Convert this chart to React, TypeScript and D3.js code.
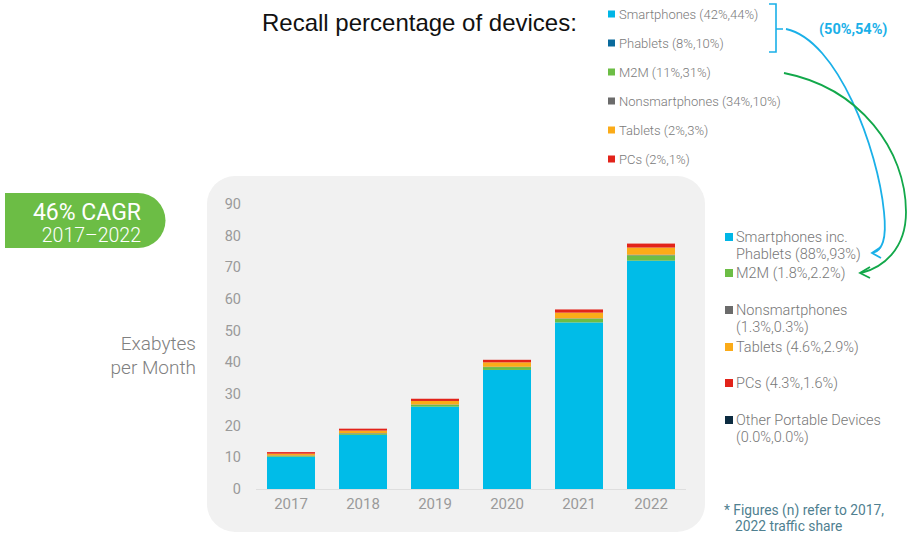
import React from "react";
import * as d3 from "d3";

const years = ["2017", "2018", "2019", "2020", "2021", "2022"];
const smartphones = [10.2, 17.1, 26.0, 37.6, 52.6, 72.1];
const m2m = [0.25, 0.4, 0.6, 0.9, 1.2, 1.7];
const nonsmartphones = [0.15, 0.15, 0.1, 0.1, 0.1, 0.2];
const tablets = [0.55, 0.8, 1.1, 1.4, 1.8, 2.25];
const pcs = [0.5, 0.6, 0.7, 0.8, 1.0, 1.25];
const otherPortable = [0, 0, 0, 0, 0, 0];
const yTicks = [0, 10, 20, 30, 40, 50, 60, 70, 80, 90];

const topLegend = [
  { label: "Smartphones (42%,44%)", color: "#00b6e6" },
  { label: "Phablets (8%,10%)", color: "#0a6a9c" },
  { label: "M2M (11%,31%)", color: "#6cbd45" },
  { label: "Nonsmartphones (34%,10%)", color: "#6b6b6b" },
  { label: "Tablets (2%,3%)", color: "#fbab18" },
  { label: "PCs (2%,1%)", color: "#e2231a" },
];

const rightLegend = [
  { lines: ["Smartphones inc.", "Phablets (88%,93%)"], color: "#00b6e6", y: 237 },
  { lines: ["M2M (1.8%,2.2%)"], color: "#6cbd45", y: 273 },
  { lines: ["Nonsmartphones", "(1.3%,0.3%)"], color: "#6b6b6b", y: 310 },
  { lines: ["Tablets (4.6%,2.9%)"], color: "#fbab18", y: 347 },
  { lines: ["PCs (4.3%,1.6%)"], color: "#e2231a", y: 383 },
  { lines: ["Other Portable Devices", "(0.0%,0.0%)"], color: "#0c2b40", y: 420 },
];

const keys = ["smartphones", "m2m", "nonsmartphones", "tablets", "pcs", "other"];
const colors: Record<string, string> = {
  smartphones: "#00bce8",
  m2m: "#6cbd45",
  nonsmartphones: "#6b6b6b",
  tablets: "#fbab18",
  pcs: "#e2231a",
  other: "#0c2b40",
};

export default function App() {
  const rows = years.map((y, i) => ({
    year: y,
    smartphones: smartphones[i],
    m2m: m2m[i],
    nonsmartphones: nonsmartphones[i],
    tablets: tablets[i],
    pcs: pcs[i],
    other: otherPortable[i],
  }));
  const stack = d3.stack<any>().keys(keys)(rows);
  const x = d3.scaleBand<string>().domain(years).range([255, 687]).paddingInner(1 / 3).paddingOuter(1 / 6);
  const y = d3.scaleLinear().domain([0, 90]).range([489, 204]);
  const font = "Roboto, 'Helvetica Neue', Arial, sans-serif";

  return (
    <svg width={910} height={536} style={{ position: "absolute", left: 0, top: 0, background: "#fff" }} fontFamily={font}>
      {/* panel */}
      <rect x={207} y={176} width={498} height={356} rx={28} fill="#f1f1f1" />

      {/* title */}
      <text x={262} y={31} fontFamily="'Liberation Sans', Arial, sans-serif" fontSize={24} fill="#111">
        Recall percentage of devices:
      </text>

      {/* top legend */}
      {topLegend.map((d, i) => (
        <g key={d.label}>
          <rect x={608} y={14 + i * 29 - 3.5} width={7} height={7} fill={d.color} />
          <text x={619} y={14 + i * 29 + 4.5} fontSize={13} fontWeight={300} fill="#7a7a7a">
            {d.label}
          </text>
        </g>
      ))}

      {/* bracket */}
      <path d="M769,4 L776,4 L776,52 L769,52 M776,29 L783,29" fill="none" stroke="#1ab0e8" strokeWidth={1.6} />
      <text x={819} y={34} fontSize={14.5} fontWeight={700} fill="#1ab0e8">
        (50%,54%)
      </text>

      {/* arrows */}
      <path d="M786,29 C838,40 878,150 884,212 C887,240 882,250 873,253" fill="none" stroke="#1ab0e8" strokeWidth={1.8} />
      <path d="M881,247 L872,253 L881,258" fill="none" stroke="#1ab0e8" strokeWidth={1.8} />
      <path d="M784,73 C860,88 906,150 906,212 C906,250 882,268 861,273" fill="none" stroke="#12a84a" strokeWidth={1.8} />
      <path d="M870,267 L860,273 L870,278" fill="none" stroke="#12a84a" strokeWidth={1.8} />

      {/* CAGR badge */}
      <path d="M5,193 L138,193 A27.5,27.5 0 0 1 138,248 L5,248 Z" fill="#6cbd45" />
      <text x={141} y={220} textAnchor="end" fontSize={23} fill="#fff">
        46% CAGR
      </text>
      <text x={141} y={242} textAnchor="end" fontSize={19.5} fontWeight={300} fill="#fff">
        2017–2022
      </text>

      {/* y label */}
      <text x={196} y={350} textAnchor="end" fontSize={19} fontWeight={300} fill="#808080">
        Exabytes
      </text>
      <text x={196} y={374} textAnchor="end" fontSize={19} fontWeight={300} fill="#808080">
        per Month
      </text>

      {/* y ticks */}
      {yTicks.map((t) => (
        <text key={t} x={241} y={y(t) + 5} textAnchor="end" fontSize={14.5} fill="#9a9a9a">
          {t}
        </text>
      ))}

      {/* baseline */}
      <line x1={256} x2={686} y1={y(0) + 0.5} y2={y(0) + 0.5} stroke="#dedede" strokeWidth={1} />

      {/* bars */}
      {stack.map((s) => (
        <g key={s.key} fill={colors[s.key]}>
          {s.map((d: any) => (
            <rect
              key={d.data.year}
              x={x(d.data.year)}
              width={x.bandwidth()}
              y={y(d[1])}
              height={Math.max(0, y(d[0]) - y(d[1]))}
            />
          ))}
        </g>
      ))}

      {/* x labels */}
      {years.map((yr) => (
        <text key={yr} x={(x(yr) as number) + x.bandwidth() / 2} y={509} textAnchor="middle" fontSize={15} fill="#9a9a9a">
          {yr}
        </text>
      ))}

      {/* right legend */}
      {rightLegend.map((d) => (
        <g key={d.lines[0]}>
          <rect x={725} y={d.y - 4} width={8} height={8} fill={d.color} />
          {d.lines.map((l, j) => (
            <text key={l} x={736} y={d.y + 5 + j * 17} fontSize={14.5} fontWeight={300} fill="#777">
              {l}
            </text>
          ))}
        </g>
      ))}

      {/* footnote */}
      <text x={724} y={515} fontSize={13.8} fill="#4f8090">
        * Figures (n) refer to 2017,
      </text>
      <text x={735} y={531} fontSize={13.8} fill="#4f8090">
        2022 traffic share
      </text>
    </svg>
  );
}
